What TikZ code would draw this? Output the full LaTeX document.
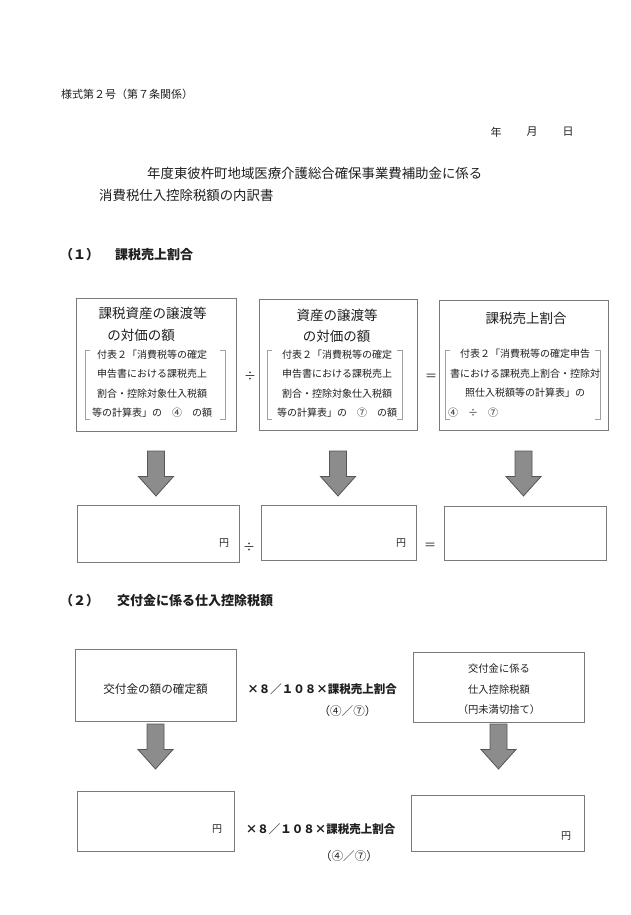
\documentclass[tikz,border=0pt]{standalone}
\usepackage{fontspec}
\setmainfont{Noto Sans CJK JP}
\definecolor{ink}{HTML}{1F1F1F}
\definecolor{boxgray}{HTML}{7A7A7A}
\definecolor{brkgray}{HTML}{A0A0A0}
\definecolor{arrfill}{HTML}{8C8C8C}
\definecolor{arrline}{HTML}{555555}
\tikzset{
    downarr/.pic={
        \draw[draw=arrline, fill=arrfill, line width=0.8pt]
            (-8.5,0) -- (8.5,0) -- (8.5,25.5) -- (17.5,25.5) -- (0,45)
            -- (-17.5,25.5) -- (-8.5,25.5) -- cycle;
    }
}
\begin{document}
\begin{tikzpicture}[x=1pt, y=-1pt,
    box/.style={draw=boxgray, line width=0.8pt, inner sep=0pt},
    brk/.style={draw=brkgray, line width=0.6pt},
    txt/.style={font=\fontsize{11}{13}\selectfont, text=ink, inner sep=0pt},
    ttl/.style={font=\fontsize{13.4}{16}\selectfont, text=ink, inner sep=0pt, anchor=west},
    head/.style={font=\fontsize{13}{16}\selectfont\bfseries, text=ink, inner sep=0pt, anchor=west},
    hd/.style={font=\fontsize{13.5}{16}\selectfont, text=ink, inner sep=0pt},
    sm/.style={font=\fontsize{10}{19.5}\selectfont, text=ink, inner sep=0pt, align=center},
    op/.style={font=\fontsize{12}{14}\selectfont, text=ink, inner sep=0pt},
    md/.style={font=\fontsize{11.6}{14}\selectfont, text=ink, inner sep=0pt},
    formula/.style={font=\fontsize{11.5}{14}\selectfont\bfseries, text=ink, inner sep=0pt}
]
\useasboundingbox (0,0) rectangle (630,915);

% Form header
\node[txt, anchor=west] (form) at (61,94) {様式第２号（第７条関係）};
\node[txt] (nen) at (496,132) {年};
\node[txt] (tsuki) at (532,132) {月};
\node[txt] (hi) at (568,132) {日};
\node[ttl] (title1) at (147,173) {年度東彼杵町地域医療介護総合確保事業費補助金に係る};
\node[ttl] (title2) at (99,195) {消費税仕入控除税額の内訳書};

% (1) taxable sales ratio
\node[head] (sec1) at (60,255) {（１）\hspace{16pt}課税売上割合};

\node[box, minimum width=160pt, minimum height=133pt] (boxA) at (156,364.5) {};
\node[box, minimum width=158pt, minimum height=131pt] (boxB) at (338,364.5) {};
\node[box, minimum width=169pt, minimum height=130pt] (boxC) at (523.5,365) {};

\node[hd] (hdA1) at (152.5,313) {課税資産の譲渡等};
\node[hd] (hdA2) at (141,335) {の対価の額};
\node[hd] (hdB1) at (337,315) {資産の譲渡等};
\node[hd] (hdB2) at (336.5,336) {の対価の額};
\node[hd] (hdC) at (526,318) {課税売上割合};

\node[sm] (refA) at (152,383.5) {付表２「消費税等の確定\\申告書における課税売上\\割合・控除対象仕入税額\\等の計算表」の　④　の額};
\node[sm] (refB) at (337,383.5) {付表２「消費税等の確定\\申告書における課税売上\\割合・控除対象仕入税額\\等の計算表」の　⑦　の額};
\node[sm] (refC) at (525,373.5) {付表２「消費税等の確定申告\\書における課税売上割合・控除対\\照仕入税額等の計算表」の};
\node[sm, anchor=west] (refC4) at (448,413) {④　÷　⑦};

% brackets
\draw[brk] (90,350) -- (85,350) -- (85,419) -- (90,419);
\draw[brk] (220,350) -- (225,350) -- (225,419) -- (220,419);
\draw[brk] (272,350) -- (267,350) -- (267,419) -- (272,419);
\draw[brk] (397,350) -- (402,350) -- (402,419) -- (397,419);
\draw[brk] (450,350) -- (445,350) -- (445,419) -- (450,419);
\draw[brk] (595,350) -- (600,350) -- (600,419) -- (595,419);

\node[op] (div1) at (250,376) {÷};
\node[op] (eq1) at (431,377) {＝};

% arrows
\coordinate (r1) at (0,451);
\pic at (boxA.south |- r1) {downarr};
\pic at (boxB.south |- r1) {downarr};
\pic at (boxC.south |- r1) {downarr};

\node[box, minimum width=162pt, minimum height=57pt] (valA) at (158,533.5) {};
\node[box, minimum width=155pt, minimum height=55pt] (valB) at (338.5,532.5) {};
\node[box, minimum width=162pt, minimum height=54pt] (valC) at (525,533) {};
\node[sm] (yenA) at (224,543) {円};
\node[sm] (yenB) at (401,543) {円};
\node[op] (div2) at (249,547) {÷};
\node[op] (eq2) at (430,546) {＝};

% (2) deduction tax on grant
\node[head] (sec2) at (60,601) {（２）\hspace{18pt}交付金に係る仕入控除税額};

\node[box, minimum width=161pt, minimum height=72pt] (grant) at (155.5,685) {};
\node[md] (grantT) at (155.5,689) {交付金の額の確定額};
\node[formula] (mul1) at (322,689) {×８／１０８×課税売上割合};
\node[md] (ratio1) at (347.5,711) {（④／⑦）};
\node[box, minimum width=171pt, minimum height=70pt] (tax) at (498.5,687) {};
\node[sm, font=\fontsize{10.3}{20.5}\selectfont] (taxT) at (499,689.5) {交付金に係る\\仕入控除税額\\（円未満切捨て）};

\coordinate (r2) at (0,724);
\pic at (grant.south |- r2) {downarr};
\pic at (tax.south |- r2) {downarr};

\node[box, minimum width=157pt, minimum height=60pt] (grantV) at (155.5,821) {};
\node[sm] (yenD) at (217,829) {円};
\node[formula] (mul2) at (320.5,829) {×８／１０８×課税売上割合};
\node[md] (ratio2) at (349,856) {（④／⑦）};
\node[box, minimum width=173pt, minimum height=56pt] (taxV) at (497.5,823) {};
\node[sm] (yenE) at (566,836) {円};
\end{tikzpicture}
\end{document}
